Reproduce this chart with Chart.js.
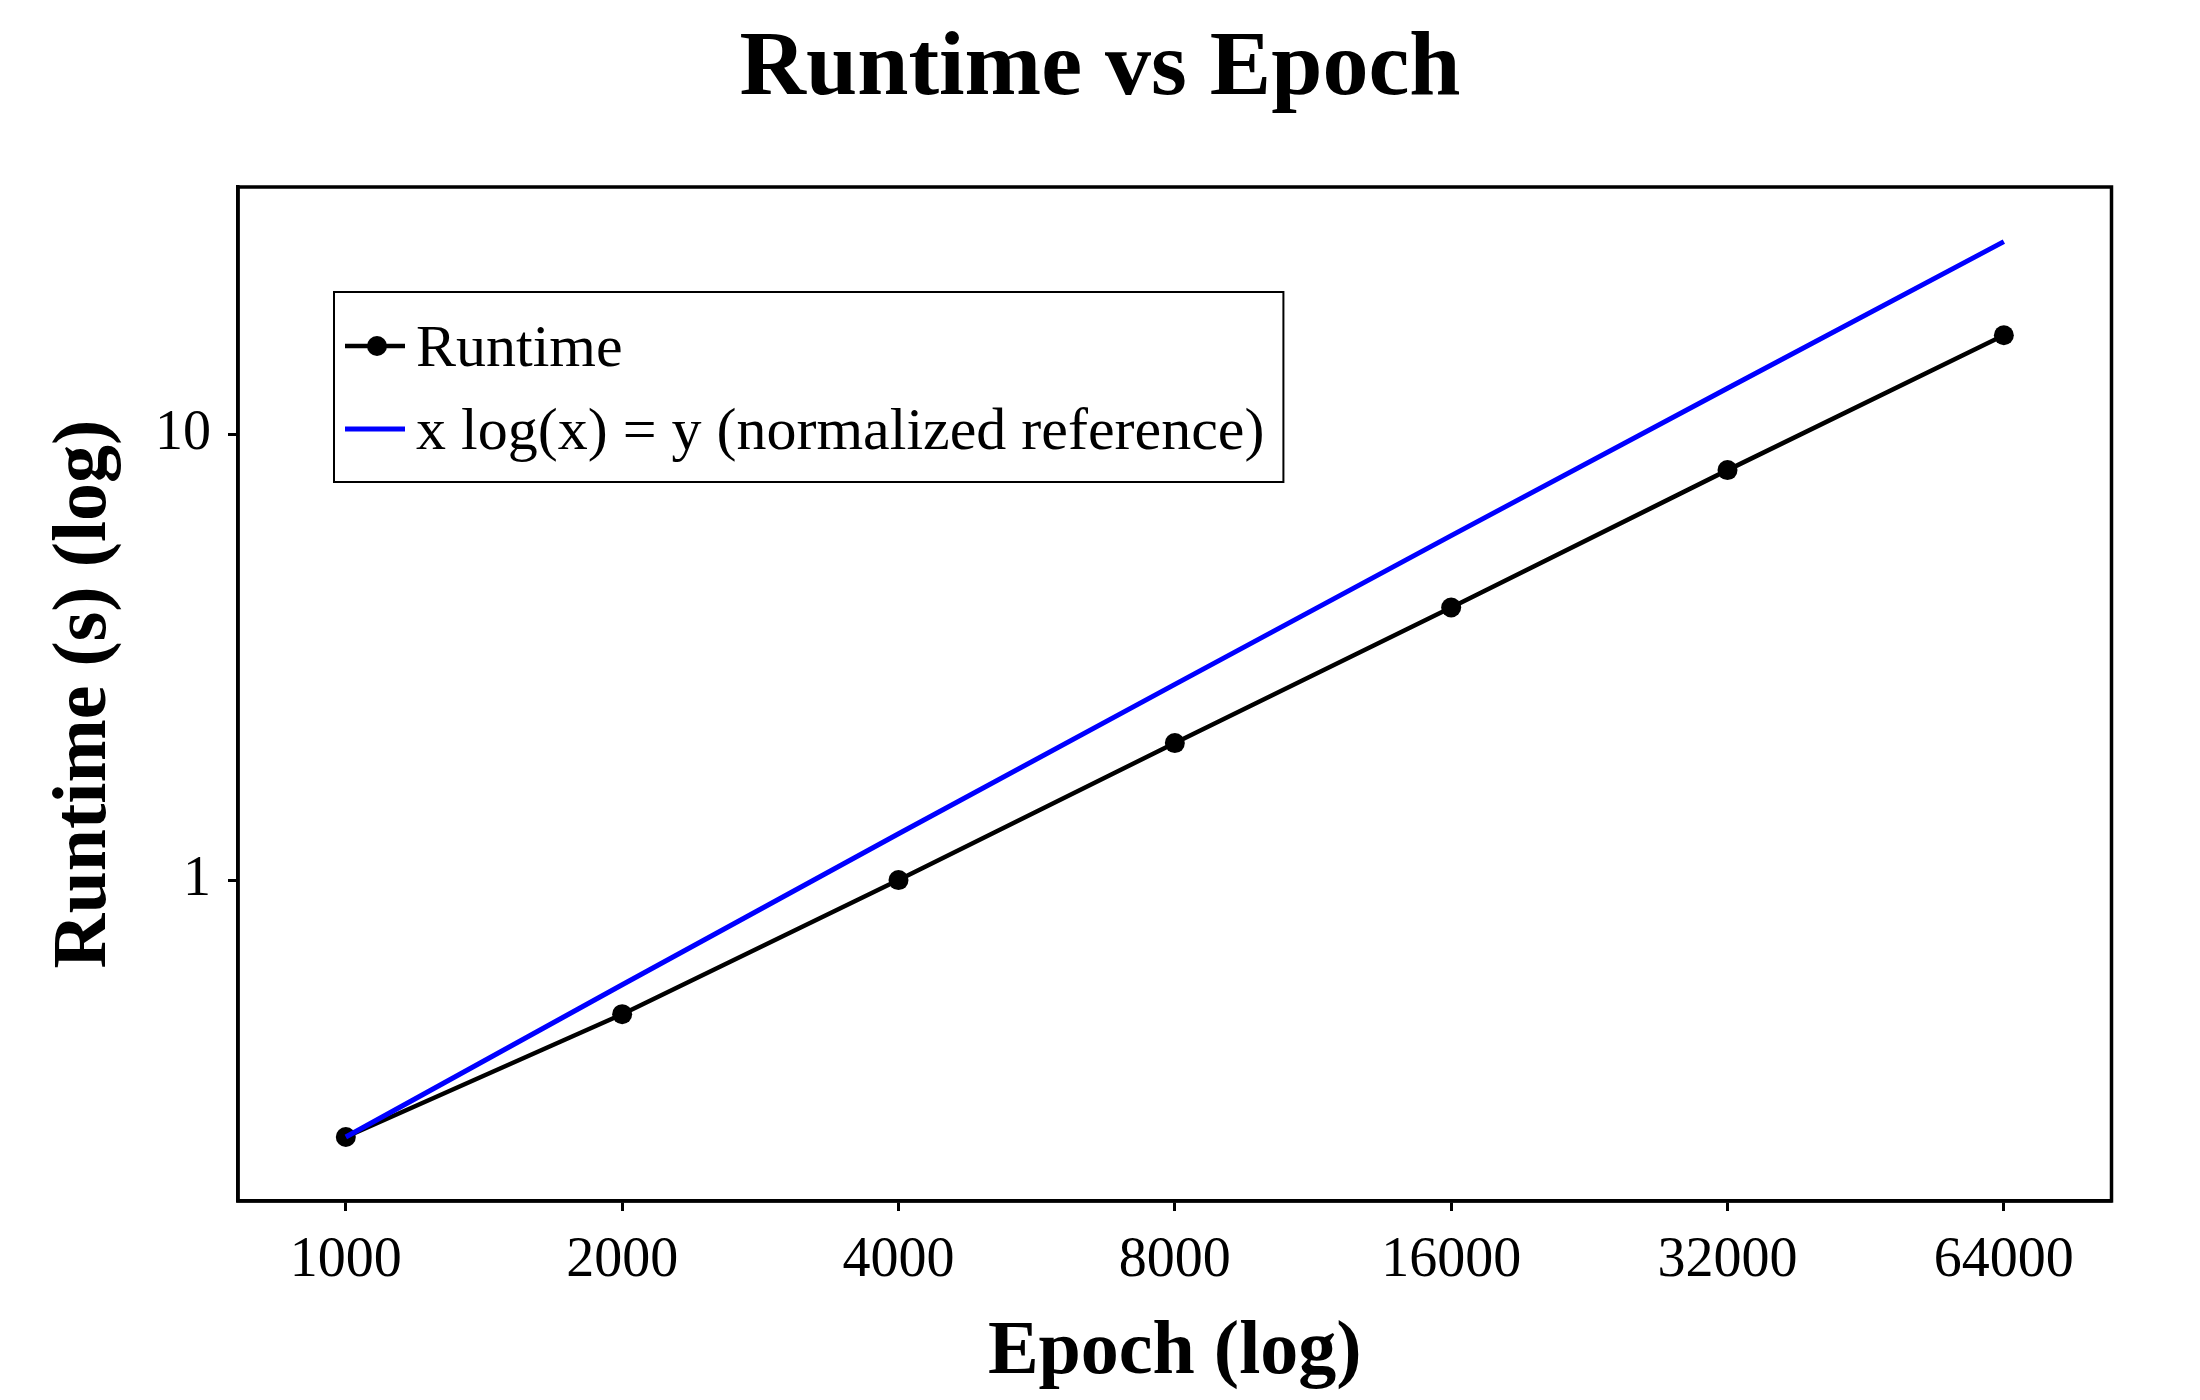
<!DOCTYPE html>
<html>
<head>
<meta charset="utf-8">
<title>Runtime vs Epoch</title>
<script src="https://cdn.jsdelivr.net/npm/chart.js"></script>
<style>
	body { margin: 0; background: #fff; }
	#mycanvas { display: block; }
</style>
</head>
<body>
<canvas id="mycanvas" width="2200" height="1400"></canvas>
<script>
var epochs = [1000, 2000, 4000, 8000, 16000, 32000, 64000];
var runtime = [0.265, 0.50, 1.0, 2.03, 4.09, 8.32, 16.7];
var reference = [0.265, 0.582, 1.27, 2.75, 5.93, 12.7, 27.1];
var xTicks = [1000, 2000, 4000, 8000, 16000, 32000, 64000];
var yTicks = [1, 10];
var labels = ['Runtime', 'x log(x) = y (normalized reference)'];

var FONT = 'Liberation Serif';
Chart.defaults.font.family = FONT;
Chart.defaults.color = '#000';

function toPoints(ys) {
	var pts = [];
	for (var i in epochs) {
		pts.push({x: epochs[i], y: ys[i]});
	}
	return pts;
}

// box round the plot + matplotlib style legend
var framePlugin = {
	id: 'frame',
	afterDraw: function(chart) {
		var ctx = chart.ctx;
		var a = chart.chartArea;
		ctx.save();
		ctx.strokeStyle = '#000';
		ctx.lineWidth = 3.5;
		ctx.strokeRect(a.left, a.top, a.right - a.left, a.bottom - a.top);

		ctx.font = '60px "' + FONT + '"';
		var tw = 0;
		for (var i in labels) tw = Math.max(tw, ctx.measureText(labels[i]).width);
		var lx = a.left + 96, ly = a.top + 105;
		var lw = 82 + tw + 19, lh = 190;
		ctx.fillStyle = '#fff';
		ctx.fillRect(lx, ly, lw, lh);
		ctx.lineWidth = 2;
		ctx.strokeRect(lx, ly, lw, lh);

		var rows = [ly + 54, ly + 137];
		var cols = ['#000', '#0000ff'];
		for (var j = 0; j < 2; j++) {
			ctx.strokeStyle = cols[j];
			ctx.lineWidth = j == 0 ? 4.5 : 5;
			ctx.beginPath();
			ctx.moveTo(lx + 11, rows[j]);
			ctx.lineTo(lx + 71, rows[j]);
			ctx.stroke();
			if (j == 0) {
				ctx.fillStyle = '#000';
				ctx.beginPath();
				ctx.arc(lx + 43, rows[j], 10, 0, Math.PI * 2);
				ctx.fill();
			}
			ctx.fillStyle = '#000';
			ctx.textBaseline = 'middle';
			ctx.textAlign = 'left';
			ctx.fillText(labels[j], lx + 82, rows[j] + 4);
		}
		ctx.restore();
	}
};

var chartdata = {
	datasets: [
		{
			label: labels[0],
			data: toPoints(runtime),
			borderColor: '#000',
			backgroundColor: '#000',
			borderWidth: 4.5,
			pointRadius: 10,
			pointBorderWidth: 0,
			pointBackgroundColor: '#000',
			order: 1
		},
		{
			label: labels[1],
			data: toPoints(reference),
			borderColor: '#0000ff',
			backgroundColor: '#0000ff',
			borderWidth: 5,
			pointRadius: 0,
			order: 0
		}
	]
};

var ctx = document.getElementById('mycanvas');

var lineGraph = new Chart(ctx, {
	type: 'line',
	data: chartdata,
	plugins: [framePlugin],
	options: {
		responsive: false,
		devicePixelRatio: 1,
		animation: false,
		layout: { padding: 0 },
		plugins: {
			legend: { display: false },
			tooltip: { enabled: false },
			title: {
				display: true,
				text: 'Runtime vs Epoch',
				color: '#000',
				font: { family: FONT, size: 92, weight: 'bold' },
				padding: { top: 15, bottom: 61.6 }
			}
		},
		scales: {
			x: {
				type: 'logarithmic',
				min: 763,
				max: 83840,
				bounds: 'data',
				afterFit: function(scale) { scale.height = 199; },
				afterBuildTicks: function(scale) {
					scale.ticks = xTicks.map(function(v) { return {value: v}; });
				},
				ticks: {
					font: { family: FONT, size: 56 },
					color: '#000',
					padding: 17,
					maxRotation: 0,
					autoSkip: false,
					callback: function(v) { return String(v); }
				},
				grid: { drawOnChartArea: false, tickLength: 10, tickColor: '#000', tickWidth: 3 },
				border: { display: true, color: '#000', width: 3.5 },
				title: {
					display: true,
					text: 'Epoch (log)',
					color: '#000',
					font: { family: FONT, size: 76, weight: 'bold' },
					padding: { top: 0, bottom: 1 }
				}
			},
			y: {
				type: 'logarithmic',
				min: 0.1904,
				max: 35.94,
				bounds: 'data',
				afterFit: function(scale) { scale.width = 238; },
				afterBuildTicks: function(scale) {
					scale.ticks = yTicks.map(function(v) { return {value: v}; });
				},
				ticks: {
					font: { family: FONT, size: 56 },
					color: '#000',
					padding: 17,
					autoSkip: false,
					callback: function(v) { return String(v); }
				},
				grid: { drawOnChartArea: false, tickLength: 10, tickColor: '#000', tickWidth: 3 },
				border: { display: true, color: '#000', width: 3.5 },
				title: {
					display: true,
					text: 'Runtime (s) (log)',
					color: '#000',
					font: { family: FONT, size: 76, weight: 'bold' },
					padding: { top: 40, bottom: 0 }
				}
			},
			// empty strip on the right so the title centres on the page
			yRight: {
				type: 'linear',
				position: 'right',
				afterFit: function(scale) { scale.width = 88.5; },
				ticks: { display: false },
				grid: { display: false },
				border: { display: false }
			}
		}
	}
});
</script>
</body>
</html>
